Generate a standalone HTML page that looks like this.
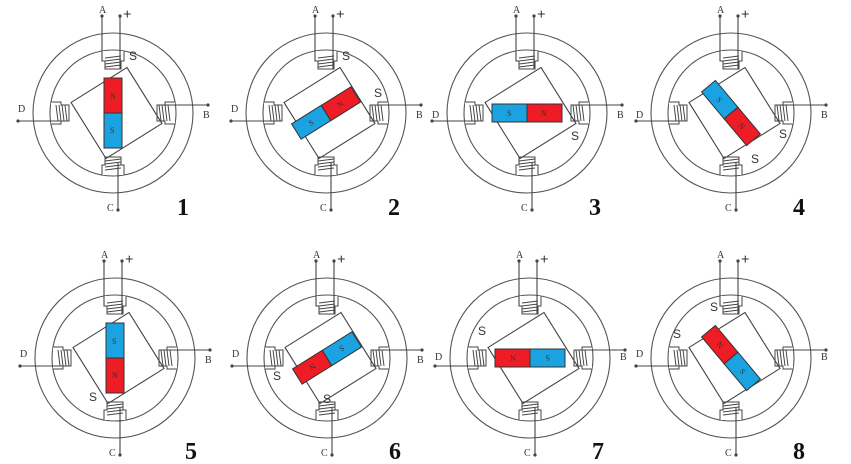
<!DOCTYPE html>
<html><head><meta charset="utf-8"><style>
html,body{margin:0;padding:0;background:#fff;}
svg{display:block;}
text{font-family:"Liberation Serif",serif;fill:#333;}
.l{font-size:10px;}
.s{font-size:12px;font-family:"Liberation Sans",sans-serif;}
.p{font-size:15px;font-weight:bold;}
.n{font-size:24px;font-weight:bold;fill:#111;}
.m{font-size:8px;font-family:"Liberation Serif",serif;fill:#333;}
</style></head><body>
<svg width="851" height="464" viewBox="0 0 851 464" xmlns="http://www.w3.org/2000/svg">
<defs>
<g id="pole">
  <path d="M-11 -62 V-52 H-8 V-44 H8 V-52 H11 V-62" fill="#fff" stroke="#444" stroke-width="1"/>
  <path d="M-8 -49 L8 -51 M-8 -52 L8 -54 M-8 -55 L8 -57 M-8 -46 L8 -48" stroke="#444" stroke-width="1"/>
</g>
<g id="base" fill="none" stroke="#555" stroke-width="1.1">
  <circle r="80"/>
  <circle r="63"/>
  <use href="#pole"/>
  <use href="#pole" transform="rotate(90)"/>
  <use href="#pole" transform="rotate(180)"/>
  <use href="#pole" transform="rotate(270)"/>
  <path d="M-11 -97 V-52 M7 -97 V-44 M45 -8 H95 M-95 8 H-45 M5 50 V97" stroke="#444"/>
  <g fill="#444" stroke="none">
    <circle cx="-11" cy="-97" r="1.6"/><circle cx="7" cy="-97" r="1.6"/>
    <circle cx="95" cy="-8" r="1.6"/><circle cx="-95" cy="8" r="1.6"/>
    <circle cx="5" cy="97" r="1.6"/>
  </g>
  <rect x="-29.5" y="-33" width="66" height="66" transform="rotate(58 3.5 0)" stroke="#444"/>
</g>
<g id="mag">
  <rect x="-35" y="-9" width="35" height="18" fill="#1aa3e0" stroke="#333"/>
  <rect x="0" y="-9" width="35" height="18" fill="#ee1c24" stroke="#333"/>
</g>
</defs>

<!-- 1 -->
<g transform="translate(113,113)">
  <use href="#base"/>
  <g transform="rotate(-90)"><use href="#mag"/><text class="m" x="-20" y="3" transform="rotate(90 -17 0)">S</text><text class="m" x="14" y="3" transform="rotate(90 17 0)">N</text></g>
  <text class="l" x="-14" y="-100">A</text><text class="p" x="10" y="-94">+</text>
  <text class="l" x="-95" y="-1">D</text><text class="l" x="90" y="5">B</text><text class="l" x="-6" y="98">C</text>
  <text class="s" x="16" y="-53">S</text>
  <text class="n" x="64" y="102">1</text>
</g>
<!-- 2 -->
<g transform="translate(326,113)">
  <use href="#base"/>
  <g transform="rotate(-32)"><use href="#mag"/><text class="m" x="-20" y="3">S</text><text class="m" x="14" y="3">N</text></g>
  <text class="l" x="-14" y="-100">A</text><text class="p" x="10" y="-94">+</text>
  <text class="l" x="-95" y="-1">D</text><text class="l" x="90" y="5">B</text><text class="l" x="-6" y="98">C</text>
  <text class="s" x="16" y="-53">S</text><text class="s" x="48" y="-16">S</text>
  <text class="n" x="62" y="102">2</text>
</g>
<!-- 3 -->
<g transform="translate(527,113)">
  <use href="#base"/>
  <g><use href="#mag"/><text class="m" x="-20" y="3">S</text><text class="m" x="14" y="3">N</text></g>
  <text class="l" x="-14" y="-100">A</text><text class="p" x="10" y="-94">+</text>
  <text class="l" x="-95" y="5">D</text><text class="l" x="90" y="5">B</text><text class="l" x="-6" y="98">C</text>
  <text class="s" x="44" y="27">S</text>
  <text class="n" x="62" y="102">3</text>
</g>
<!-- 4 -->
<g transform="translate(731,113)">
  <use href="#base"/>
  <g transform="rotate(50)"><use href="#mag"/><text class="m" x="-20" y="3">S</text><text class="m" x="14" y="3">N</text></g>
  <text class="l" x="-14" y="-100">A</text><text class="p" x="10" y="-94">+</text>
  <text class="l" x="-95" y="5">D</text><text class="l" x="90" y="5">B</text><text class="l" x="-6" y="98">C</text>
  <text class="s" x="48" y="25">S</text><text class="s" x="20" y="50">S</text>
  <text class="n" x="62" y="102">4</text>
</g>
<!-- 5 -->
<g transform="translate(115,358)">
  <use href="#base"/>
  <g transform="rotate(90)"><use href="#mag"/><text class="m" x="-20" y="3" transform="rotate(-90 -17 0)">S</text><text class="m" x="14" y="3" transform="rotate(-90 17 0)">N</text></g>
  <text class="l" x="-14" y="-100">A</text><text class="p" x="10" y="-94">+</text>
  <text class="l" x="-95" y="-1">D</text><text class="l" x="90" y="5">B</text><text class="l" x="-6" y="98">C</text>
  <text class="s" x="-26" y="43">S</text>
  <text class="n" x="70" y="101">5</text>
</g>
<!-- 6 -->
<g transform="translate(327,358)">
  <use href="#base"/>
  <g transform="rotate(148)"><use href="#mag"/><text class="m" x="-20" y="3">S</text><text class="m" x="14" y="3">N</text></g>
  <text class="l" x="-14" y="-100">A</text><text class="p" x="10" y="-94">+</text>
  <text class="l" x="-95" y="-1">D</text><text class="l" x="90" y="5">B</text><text class="l" x="-6" y="98">C</text>
  <text class="s" x="-54" y="22">S</text><text class="s" x="-4" y="45">S</text>
  <text class="n" x="62" y="101">6</text>
</g>
<!-- 7 -->
<g transform="translate(530,358)">
  <use href="#base"/>
  <g transform="rotate(180)"><use href="#mag"/><text class="m" x="-20" y="3">S</text><text class="m" x="14" y="3">N</text></g>
  <text class="l" x="-14" y="-100">A</text><text class="p" x="10" y="-94">+</text>
  <text class="l" x="-95" y="2">D</text><text class="l" x="90" y="2">B</text><text class="l" x="-6" y="98">C</text>
  <text class="s" x="-52" y="-23">S</text>
  <text class="n" x="62" y="101">7</text>
</g>
<!-- 8 -->
<g transform="translate(731,358)">
  <use href="#base"/>
  <g transform="rotate(230)"><use href="#mag"/><text class="m" x="-20" y="3">S</text><text class="m" x="14" y="3">N</text></g>
  <text class="l" x="-14" y="-100">A</text><text class="p" x="10" y="-94">+</text>
  <text class="l" x="-95" y="-1">D</text><text class="l" x="90" y="2">B</text><text class="l" x="-6" y="98">C</text>
  <text class="s" x="-21" y="-47">S</text><text class="s" x="-58" y="-20">S</text>
  <text class="n" x="62" y="101">8</text>
</g>
</svg>
</body></html>
